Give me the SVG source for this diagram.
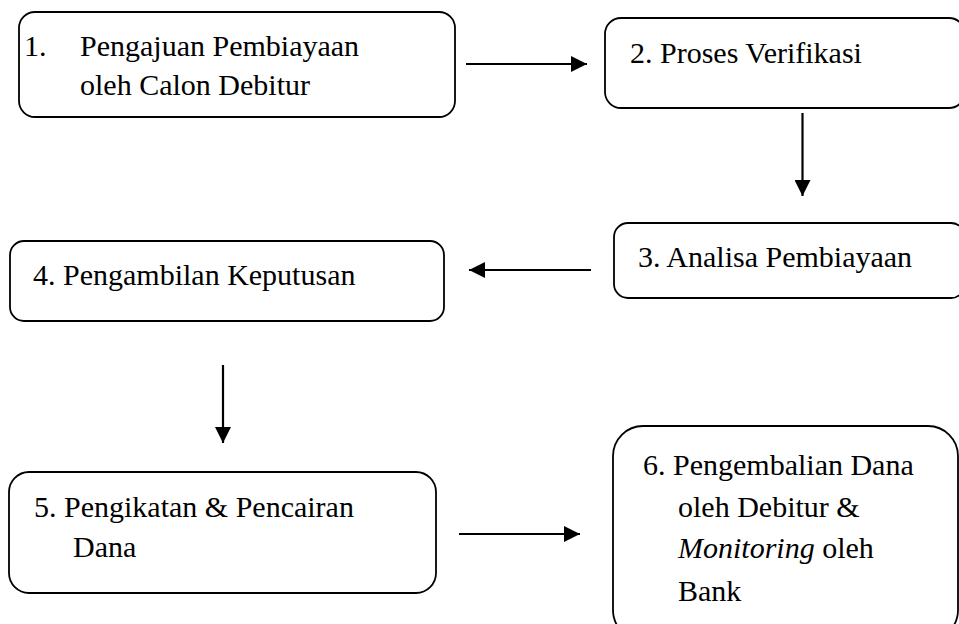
<svg xmlns="http://www.w3.org/2000/svg" width="959" height="624" viewBox="0 0 959 624">
<style>
.box{fill:#fff;stroke:#000;stroke-width:1.8}
.c{stroke:#000;stroke-width:2.2;fill:none}
</style>
<defs>
<marker id="ah" viewBox="0 0 16 16" refX="16" refY="8" markerWidth="16" markerHeight="16" markerUnits="userSpaceOnUse" orient="auto">
<path d="M0,0 L16,8 L0,16 Z" fill="#000"/>
</marker>
</defs>
<rect width="959" height="624" fill="#fff"/>
<g id="connectors">
<line class="c" x1="466" y1="64" x2="587" y2="64" marker-end="url(#ah)"/>
<line class="c" x1="802.5" y1="113" x2="802.5" y2="196" marker-end="url(#ah)"/>
<line class="c" x1="591" y1="270" x2="469" y2="270" marker-end="url(#ah)"/>
<line class="c" x1="223" y1="365" x2="223" y2="443" marker-end="url(#ah)"/>
<line class="c" x1="459" y1="534" x2="580" y2="534" marker-end="url(#ah)"/>
</g>
<g id="node1">
<rect class="box" x="19" y="12" width="436" height="105" rx="16"/>
<text x="24" y="56" font-size="30" font-family="Liberation Serif">1.</text>
<text x="80" y="56" font-size="30" font-family="Liberation Serif">Pengajuan Pembiayaan</text>
<text x="80" y="95" font-size="30" font-family="Liberation Serif">oleh Calon Debitur</text>
</g>
<g id="node2">
<rect class="box" x="605" y="18" width="360" height="90" rx="16"/>
<text x="630" y="63" font-size="30" font-family="Liberation Serif">2. Proses Verifikasi</text>
</g>
<g id="node3">
<rect class="box" x="614" y="223" width="351" height="75" rx="14"/>
<text x="638" y="267" font-size="30" font-family="Liberation Serif">3. Analisa Pembiayaan</text>
</g>
<g id="node4">
<rect class="box" x="10" y="241" width="434" height="80" rx="14"/>
<text x="33" y="285" font-size="30" font-family="Liberation Serif">4. Pengambilan Keputusan</text>
</g>
<g id="node5">
<rect class="box" x="9" y="472" width="427" height="121" rx="20"/>
<text x="34" y="517" font-size="30" font-family="Liberation Serif">5. Pengikatan &amp; Pencairan</text>
<text x="73" y="557" font-size="30" font-family="Liberation Serif">Dana</text>
</g>
<g id="node6">
<rect class="box" x="613" y="426" width="345" height="214" rx="30"/>
<text x="643" y="475" font-size="30" font-family="Liberation Serif">6. Pengembalian Dana</text>
<text x="678" y="517" font-size="30" font-family="Liberation Serif">oleh Debitur &amp;</text>
<text x="678" y="558" font-size="30" font-family="Liberation Serif"><tspan font-style="italic">Monitoring</tspan> oleh</text>
<text x="678" y="601" font-size="30" font-family="Liberation Serif">Bank</text>
</g>
</svg>
